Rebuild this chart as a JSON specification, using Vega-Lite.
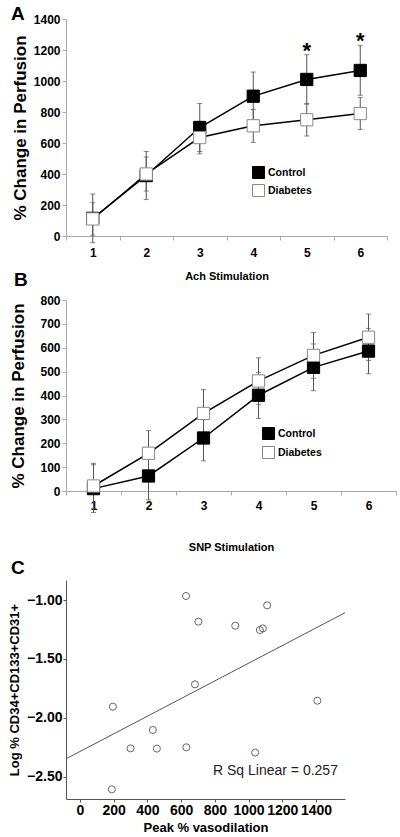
{
  "$schema": "https://vega.github.io/schema/vega-lite/v6.json",
  "padding": {"left": 8, "top": 5, "right": 0, "bottom": 0},
  "background": "white",
  "config": {
    "view": {"stroke": null},
    "font": "Liberation Sans",
    "axis": {"grid": false, "labelFont": "Liberation Sans", "titleFont": "Liberation Sans", "labelFontWeight": "bold", "titleFontWeight": "bold", "labelColor": "black", "titleColor": "black", "labelOverlap": false},
    "legend": {"labelFont": "Liberation Sans"}
  },
  "datasets": {
    "ach": [
      {"stim": "1", "group": "Control", "value": 114, "lo": -43, "hi": 271},
      {"stim": "2", "group": "Control", "value": 390, "lo": 235, "hi": 545},
      {"stim": "3", "group": "Control", "value": 700, "lo": 545, "hi": 855},
      {"stim": "4", "group": "Control", "value": 902, "lo": 746, "hi": 1058},
      {"stim": "5", "group": "Control", "value": 1010, "lo": 850, "hi": 1170},
      {"stim": "6", "group": "Control", "value": 1068, "lo": 908, "hi": 1228},
      {"stim": "1", "group": "Diabetes", "value": 110, "lo": 5, "hi": 215},
      {"stim": "2", "group": "Diabetes", "value": 400, "lo": 290, "hi": 510},
      {"stim": "3", "group": "Diabetes", "value": 635, "lo": 530, "hi": 740},
      {"stim": "4", "group": "Diabetes", "value": 711, "lo": 604, "hi": 816},
      {"stim": "5", "group": "Diabetes", "value": 750, "lo": 645, "hi": 855},
      {"stim": "6", "group": "Diabetes", "value": 790, "lo": 687, "hi": 893}
    ],
    "snp": [
      {"stim": "1", "group": "Control", "value": 10, "lo": -90, "hi": 110},
      {"stim": "2", "group": "Control", "value": 63, "lo": -37, "hi": 163},
      {"stim": "3", "group": "Control", "value": 222, "lo": 126, "hi": 318},
      {"stim": "4", "group": "Control", "value": 401, "lo": 304, "hi": 497},
      {"stim": "5", "group": "Control", "value": 518, "lo": 420, "hi": 616},
      {"stim": "6", "group": "Control", "value": 586, "lo": 491, "hi": 681},
      {"stim": "1", "group": "Diabetes", "value": 21, "lo": -74, "hi": 116},
      {"stim": "2", "group": "Diabetes", "value": 158, "lo": 63, "hi": 253},
      {"stim": "3", "group": "Diabetes", "value": 325, "lo": 225, "hi": 425},
      {"stim": "4", "group": "Diabetes", "value": 461, "lo": 363, "hi": 558},
      {"stim": "5", "group": "Diabetes", "value": 568, "lo": 472, "hi": 664},
      {"stim": "6", "group": "Diabetes", "value": 644, "lo": 547, "hi": 741}
    ],
    "corr": [
      {"pv": 629, "lv": -0.966},
      {"pv": 1110, "lv": -1.045},
      {"pv": 702, "lv": -1.184},
      {"pv": 921, "lv": -1.218},
      {"pv": 1067, "lv": -1.255},
      {"pv": 1085, "lv": -1.241},
      {"pv": 682, "lv": -1.716},
      {"pv": 195, "lv": -1.906},
      {"pv": 1408, "lv": -1.855},
      {"pv": 432, "lv": -2.104},
      {"pv": 300, "lv": -2.26},
      {"pv": 456, "lv": -2.262},
      {"pv": 631, "lv": -2.251},
      {"pv": 1039, "lv": -2.296},
      {"pv": 189, "lv": -2.608}
    ]
  },
  "bounds": "flush",
  "spacing": 64,
  "resolve": {"scale": {"fill": "independent", "stroke": "independent", "x": "independent", "y": "independent"}, "legend": {"fill": "independent", "stroke": "independent"}},
  "vconcat": [
    {
      "width": 321,
      "height": 217,
      "title": {"text": "A", "anchor": "start", "frame": "group", "fontSize": 19, "fontWeight": "bold", "font": "Liberation Sans", "dx": -55, "dy": 26, "offset": 0, "baseline": "alphabetic"},
      "data": {"name": "ach"},
      "encoding": {
        "x": {"field": "stim", "type": "ordinal", "scale": {"type": "band", "paddingInner": 0, "paddingOuter": 0},
              "axis": {"title": "Ach Stimulation", "labelAngle": 0, "labelFontSize": 12, "labelFontWeight": "bold", "tickSize": 4, "labelPadding": 7, "titleFontSize": 11, "titlePadding": 12, "tickBand": "extent", "domainColor": "#aaa", "tickColor": "#aaa"}},
        "y": {"field": "value", "type": "quantitative", "title": "% Change in Perfusion", "scale": {"domain": [0, 1400], "nice": false},
              "axis": {"values": [0, 200, 400, 600, 800, 1000, 1200, 1400], "format": "d", "labelOverlap": false, "labelFontSize": 12, "labelFontWeight": "bold", "tickSize": 4, "labelPadding": 2, "titleFontSize": 17, "titlePadding": 4, "domainColor": "#aaa", "tickColor": "#aaa"}}
      },
      "layer": [
        {
          "mark": {"type": "line", "color": "black", "strokeWidth": 1.5},
          "encoding": {"detail": {"field": "group"}}
        },
        {
          "mark": {"type": "rule", "color": "#555", "strokeWidth": 1},
          "encoding": {"y": {"field": "lo", "type": "quantitative"}, "y2": {"field": "hi"}}
        },
        {
          "mark": {"type": "tick", "color": "#555", "size": 5, "thickness": 1, "orient": "horizontal"},
          "encoding": {"y": {"field": "lo", "type": "quantitative"}}
        },
        {
          "mark": {"type": "tick", "color": "#555", "size": 5, "thickness": 1, "orient": "horizontal"},
          "encoding": {"y": {"field": "hi", "type": "quantitative"}}
        },
        {
          "mark": {"type": "square", "size": 150, "opacity": 1, "strokeWidth": 1},
          "encoding": {
            "fill": {"field": "group", "type": "nominal", "scale": {"domain": ["Control", "Diabetes"], "range": ["black", "white"]},
                     "legend": {"orient": "none", "legendX": 186, "legendY": 147, "title": null, "labelFontSize": 10.5, "labelFontWeight": "bold", "labelColor": "black", "symbolSize": 144, "symbolType": "square", "rowPadding": 1, "labelOffset": 3, "padding": 0, "symbolStrokeWidth": 1}},
            "stroke": {"field": "group", "type": "nominal", "scale": {"domain": ["Control", "Diabetes"], "range": ["black", "#888"]},
                     "legend": {"orient": "none", "legendX": 186, "legendY": 147, "title": null, "labelFontSize": 10.5, "labelFontWeight": "bold", "labelColor": "black", "symbolSize": 144, "symbolType": "square", "rowPadding": 1, "labelOffset": 3, "padding": 0, "symbolStrokeWidth": 1}}
          }
        },
        {
          "data": {"values": [{"stim": "5", "value": 1232, "label": "*"}, {"stim": "6", "value": 1297, "label": "*"}]},
          "mark": {"type": "text", "fontSize": 22, "fontWeight": "bold", "baseline": "middle", "dy": 6, "color": "black"},
          "encoding": {"text": {"field": "label"}}
        }
      ]
    },
    {
      "bounds": "flush",
      "spacing": 89,
      "resolve": {"scale": {"fill": "independent", "stroke": "independent", "x": "independent", "y": "independent"}, "legend": {"fill": "independent", "stroke": "independent"}},
      "vconcat": [
        {
          "width": 330,
          "height": 191,
          "title": {"text": "B", "anchor": "start", "frame": "group", "fontSize": 19, "fontWeight": "bold", "font": "Liberation Sans", "dx": -52, "dy": 11, "offset": 0, "baseline": "alphabetic"},
          "data": {"name": "snp"},
          "encoding": {
            "x": {"field": "stim", "type": "ordinal", "scale": {"type": "band", "paddingInner": 0, "paddingOuter": 0},
                  "axis": {"title": "SNP Stimulation", "labelAngle": 0, "labelFontSize": 12, "labelFontWeight": "bold", "tickSize": 4, "labelPadding": 5, "titleFontSize": 11, "titlePadding": 30, "tickBand": "extent", "domainColor": "#aaa", "tickColor": "#aaa"}},
            "y": {"field": "value", "type": "quantitative", "title": "% Change in Perfusion", "scale": {"domain": [0, 800], "nice": false},
                  "axis": {"values": [0, 100, 200, 300, 400, 500, 600, 700, 800], "format": "d", "labelOverlap": false, "labelFontSize": 12, "labelFontWeight": "bold", "tickSize": 4, "labelPadding": 2, "titleFontSize": 17, "titlePadding": 12, "domainColor": "#aaa", "tickColor": "#aaa"}}
          },
          "layer": [
            {
              "mark": {"type": "line", "color": "black", "strokeWidth": 1.5},
              "encoding": {"detail": {"field": "group"}}
            },
            {
              "mark": {"type": "rule", "color": "#555", "strokeWidth": 1},
              "encoding": {"y": {"field": "lo", "type": "quantitative"}, "y2": {"field": "hi"}}
            },
            {
              "mark": {"type": "tick", "color": "#555", "size": 5, "thickness": 1, "orient": "horizontal"},
              "encoding": {"y": {"field": "lo", "type": "quantitative"}}
            },
            {
              "mark": {"type": "tick", "color": "#555", "size": 5, "thickness": 1, "orient": "horizontal"},
              "encoding": {"y": {"field": "hi", "type": "quantitative"}}
            },
            {
              "mark": {"type": "square", "size": 150, "opacity": 1, "strokeWidth": 1},
              "encoding": {
                "fill": {"field": "group", "type": "nominal", "scale": {"domain": ["Control", "Diabetes"], "range": ["black", "white"]},
                         "legend": {"orient": "none", "legendX": 196, "legendY": 127, "title": null, "labelFontSize": 10.5, "labelFontWeight": "bold", "labelColor": "black", "symbolSize": 144, "symbolType": "square", "rowPadding": 2, "labelOffset": 3, "padding": 0, "symbolStrokeWidth": 1}},
                "stroke": {"field": "group", "type": "nominal", "scale": {"domain": ["Control", "Diabetes"], "range": ["black", "#888"]},
                         "legend": {"orient": "none", "legendX": 196, "legendY": 127, "title": null, "labelFontSize": 10.5, "labelFontWeight": "bold", "labelColor": "black", "symbolSize": 144, "symbolType": "square", "rowPadding": 2, "labelOffset": 3, "padding": 0, "symbolStrokeWidth": 1}}
              }
            }
          ]
        },
        {
          "width": 279,
          "height": 219,
          "title": {"text": "C", "anchor": "start", "frame": "group", "fontSize": 19, "fontWeight": "bold", "font": "Liberation Sans", "dx": -55, "dy": 13, "offset": 0, "baseline": "alphabetic"},
          "data": {"name": "corr"},
          "encoding": {
            "x": {"field": "pv", "type": "quantitative", "title": "Peak % vasodilation", "scale": {"domain": [-83, 1572], "nice": false, "zero": false},
                  "axis": {"values": [0, 200, 400, 600, 800, 1000, 1200, 1400], "format": "d", "labelOverlap": false, "labelFontSize": 14, "labelFontWeight": "bold", "tickSize": 3, "labelPadding": 1, "titleFontSize": 13, "titlePadding": 4, "domainColor": "#555", "tickColor": "#555"}},
            "y": {"field": "lv", "type": "quantitative", "title": "Log % CD34+CD133+CD31+", "scale": {"domain": [-2.69, -0.83], "nice": false, "zero": false},
                  "axis": {"values": [-1, -1.5, -2, -2.5], "format": ".2f", "labelOverlap": false, "labelFontSize": 14, "labelFontWeight": "bold", "tickSize": 3, "labelPadding": 1, "titleFontSize": 13, "titlePadding": 5, "domainColor": "#555", "tickColor": "#555"}}
          },
          "layer": [
            {
              "mark": {"type": "point", "shape": "circle", "size": 50, "filled": false, "color": "#666", "strokeWidth": 1, "opacity": 1}
            },
            {
              "transform": [{"regression": "lv", "on": "pv", "extent": [-83, 1572]}],
              "mark": {"type": "line", "color": "#555", "strokeWidth": 1},
              "encoding": {}
            },
            {
              "data": {"values": [{"pv": 1530, "lv": -2.452, "label": "R Sq Linear = 0.257"}]},
              "mark": {"type": "text", "align": "right", "baseline": "middle", "fontSize": 14, "fontWeight": "normal", "color": "#222", "font": "Liberation Sans"},
              "encoding": {"text": {"field": "label"}}
            }
          ]
        }
      ]
    }
  ]
}
